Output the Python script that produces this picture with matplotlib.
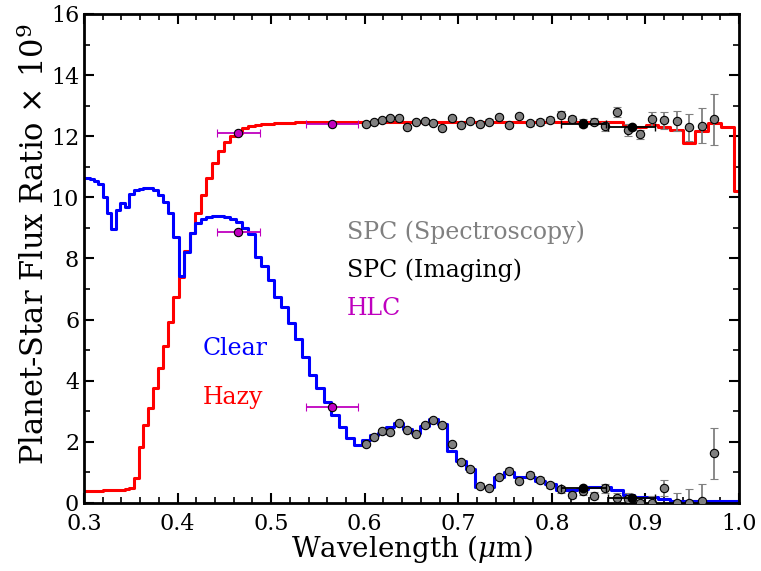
import matplotlib
matplotlib.use("Agg")
import matplotlib.pyplot as plt
from matplotlib.ticker import MultipleLocator

plt.rcParams['font.family'] = 'DejaVu Serif'
plt.rcParams['mathtext.fontset'] = 'dejavuserif'

# model bin centres (um)
wl = [0.3000, 0.3043, 0.3086, 0.3131, 0.3175, 0.3221, 0.3267, 0.3313, 0.3361, 0.3409,
      0.3457, 0.3507, 0.3557, 0.3608, 0.3659, 0.3712, 0.3765, 0.3818, 0.3873, 0.3928,
      0.3984, 0.4041, 0.4099, 0.4158, 0.4217, 0.4277, 0.4338, 0.4400, 0.4463, 0.4527,
      0.4592, 0.4657, 0.4724, 0.4791, 0.4860, 0.4929, 0.4999, 0.5071, 0.5143, 0.5217,
      0.5291, 0.5367, 0.5444, 0.5521, 0.5600, 0.5680, 0.5761, 0.5844, 0.5927, 0.6012,
      0.6098, 0.6185, 0.6273, 0.6363, 0.6454, 0.6546, 0.6640, 0.6734, 0.6831, 0.6928,
      0.7027, 0.7128, 0.7230, 0.7333, 0.7438, 0.7544, 0.7652, 0.7761, 0.7872, 0.7984,
      0.8098, 0.8214, 0.8331, 0.8450, 0.8571, 0.8693, 0.8818, 0.8944, 0.9071, 0.9201,
      0.9332, 0.9466, 0.9601, 0.9738, 0.9877, 1.0018]

clear = [10.65, 10.62, 10.60, 10.55, 10.45, 10.00, 9.50, 8.98, 9.60, 9.80,
         9.70, 10.10, 10.25, 10.28, 10.30, 10.30, 10.25, 10.08, 9.85, 9.50,
         8.70, 7.43, 8.20, 8.85, 9.15, 9.30, 9.35, 9.38, 9.38, 9.35,
         9.30, 9.20, 9.00, 8.80, 8.05, 7.75, 7.30, 6.75, 6.40, 5.90,
         5.35, 4.78, 4.19, 3.76, 3.30, 2.88, 2.48, 2.12, 1.90, 2.06,
         2.22, 2.29, 2.48, 2.61, 2.42, 2.29, 2.52, 2.74, 2.58, 1.70,
         1.37, 1.12, 0.53, 0.53, 0.86, 1.00, 0.86, 0.84, 0.72, 0.61,
         0.42, 0.42, 0.45, 0.52, 0.52, 0.42, 0.26, 0.19, 0.19, 0.13,
         0.07, 0.07, 0.07, 0.07, 0.07, 0.07]

hazy = [0.40, 0.40, 0.40, 0.40, 0.40, 0.41, 0.41, 0.42, 0.42, 0.43,
        0.45, 0.50, 0.82, 1.83, 2.55, 3.10, 3.75, 4.42, 5.14, 5.92,
        6.74, 7.40, 8.25, 8.83, 9.50, 10.08, 10.63, 11.13, 11.53, 11.80,
        12.00, 12.10, 12.27, 12.34, 12.38, 12.40, 12.41, 12.43, 12.44, 12.44,
        12.45, 12.45, 12.45, 12.45, 12.45, 12.45, 12.45, 12.45, 12.45, 12.45,
        12.46, 12.46, 12.46, 12.47, 12.47, 12.47, 12.47, 12.47, 12.48, 12.48,
        12.48, 12.48, 12.48, 12.48, 12.48, 12.48, 12.48, 12.48, 12.48, 12.48,
        12.48, 12.48, 12.48, 12.48, 12.47, 12.45, 12.37, 12.30, 12.37, 12.30,
        12.20, 11.78, 12.17, 12.43, 12.30, 10.20]

# SPC spectroscopy points
spc_wl = [0.6012, 0.6098, 0.6185, 0.6273, 0.6363, 0.6454, 0.6546, 0.6640, 0.6734, 0.6831,
          0.6928, 0.7027, 0.7128, 0.7230, 0.7333, 0.7438, 0.7544, 0.7652, 0.7761, 0.7872,
          0.7984, 0.8098, 0.8214, 0.8331, 0.8450, 0.8571, 0.8693, 0.8818, 0.8944, 0.9071,
          0.9201, 0.9332, 0.9466, 0.9601, 0.9738]
spc_hazy = [12.39, 12.46, 12.52, 12.61, 12.59, 12.31, 12.48, 12.50, 12.42, 12.28,
            12.59, 12.37, 12.50, 12.40, 12.48, 12.63, 12.36, 12.67, 12.42, 12.46,
            12.52, 12.71, 12.56, 12.42, 12.48, 12.32, 12.80, 12.20, 12.07, 12.55,
            12.52, 12.50, 12.29, 12.34, 12.55]
spc_clear = [1.92, 2.15, 2.37, 2.31, 2.61, 2.39, 2.26, 2.56, 2.72, 2.55,
             1.92, 1.35, 1.10, 0.57, 0.48, 0.84, 1.06, 0.72, 0.92, 0.75,
             0.58, 0.45, 0.26, 0.39, 0.24, 0.48, 0.15, 0.12, 0.01, 0.00,
             0.49, 0.00, 0.00, 0.05, 1.63]
spc_err = [0.05, 0.05, 0.05, 0.05, 0.05, 0.05, 0.05, 0.05, 0.05, 0.05,
           0.05, 0.05, 0.07, 0.07, 0.07, 0.07, 0.07, 0.07, 0.08, 0.09,
           0.10, 0.12, 0.10, 0.13, 0.11, 0.15, 0.17, 0.20, 0.15, 0.23,
           0.27, 0.32, 0.45, 0.57, 0.83]

# SPC imaging points
img_wl = [0.8335, 0.8853]
img_xerr = [0.024, 0.025]
img_hazy = [12.39, 12.31]
img_clear = [0.49, 0.17]

# HLC points
hlc_wl = [0.465, 0.565]
hlc_xerr = [0.023, 0.028]
hlc_hazy = [12.10, 12.40]
hlc_clear = [8.88, 3.15]

fig = plt.figure(figsize=(7.61, 5.71), dpi=100)
ax = fig.add_axes([0.1104, 0.1191, 0.8607, 0.8564])

ax.plot(wl, hazy, color='r', lw=2.2, drawstyle='steps-mid')
ax.plot(wl, clear, color='b', lw=2.2, drawstyle='steps-mid')

for y in (spc_hazy, spc_clear):
    ax.errorbar(spc_wl, y, yerr=spc_err, fmt='o', color='gray', ecolor='gray',
                mfc='gray', mec='k', ms=6, mew=0.8, capsize=3, elinewidth=1.3, zorder=3)
for y in (img_hazy, img_clear):
    ax.errorbar(img_wl, y, xerr=img_xerr, fmt='o', color='k', mfc='k', mec='k',
                ms=6, capsize=3, elinewidth=1.3, zorder=4)
for y in (hlc_hazy, hlc_clear):
    ax.errorbar(hlc_wl, y, xerr=hlc_xerr, fmt='o', color='m', mfc='m', mec='k',
                ms=6, mew=0.8, capsize=3, elinewidth=1.3, zorder=4)

ax.text(0.427, 5.04, 'Clear', color='b', fontsize=17, va='center')
ax.text(0.427, 3.44, 'Hazy', color='r', fontsize=17, va='center')
ax.text(0.581, 8.87, 'SPC (Spectroscopy)', color='gray', fontsize=17, va='center')
ax.text(0.581, 7.62, 'SPC (Imaging)', color='k', fontsize=17, va='center')
ax.text(0.581, 6.35, 'HLC', color='m', fontsize=17, va='center')

ax.set_xlim(0.3, 1.0)
ax.set_ylim(0, 16)
ax.xaxis.set_major_locator(MultipleLocator(0.1))
ax.xaxis.set_minor_locator(MultipleLocator(0.02))
ax.yaxis.set_major_locator(MultipleLocator(2))
ax.yaxis.set_minor_locator(MultipleLocator(1))
ax.tick_params(which='both', direction='in', top=True, right=True, labelsize=16)
ax.tick_params(axis='x', pad=7)
ax.tick_params(which='major', length=7, width=1.5)
ax.tick_params(which='minor', length=4, width=1.2)
for s in ax.spines.values():
    s.set_linewidth(2)

ax.set_xlabel(r'Wavelength ($\mu$m)', fontsize=20, labelpad=-1)
ax.set_ylabel(r'Planet-Star Flux Ratio $\times$ $10^9$', fontsize=22)
ax.yaxis.set_label_coords(-0.05, 0.53)

fig.savefig('out.png', dpi=100)
